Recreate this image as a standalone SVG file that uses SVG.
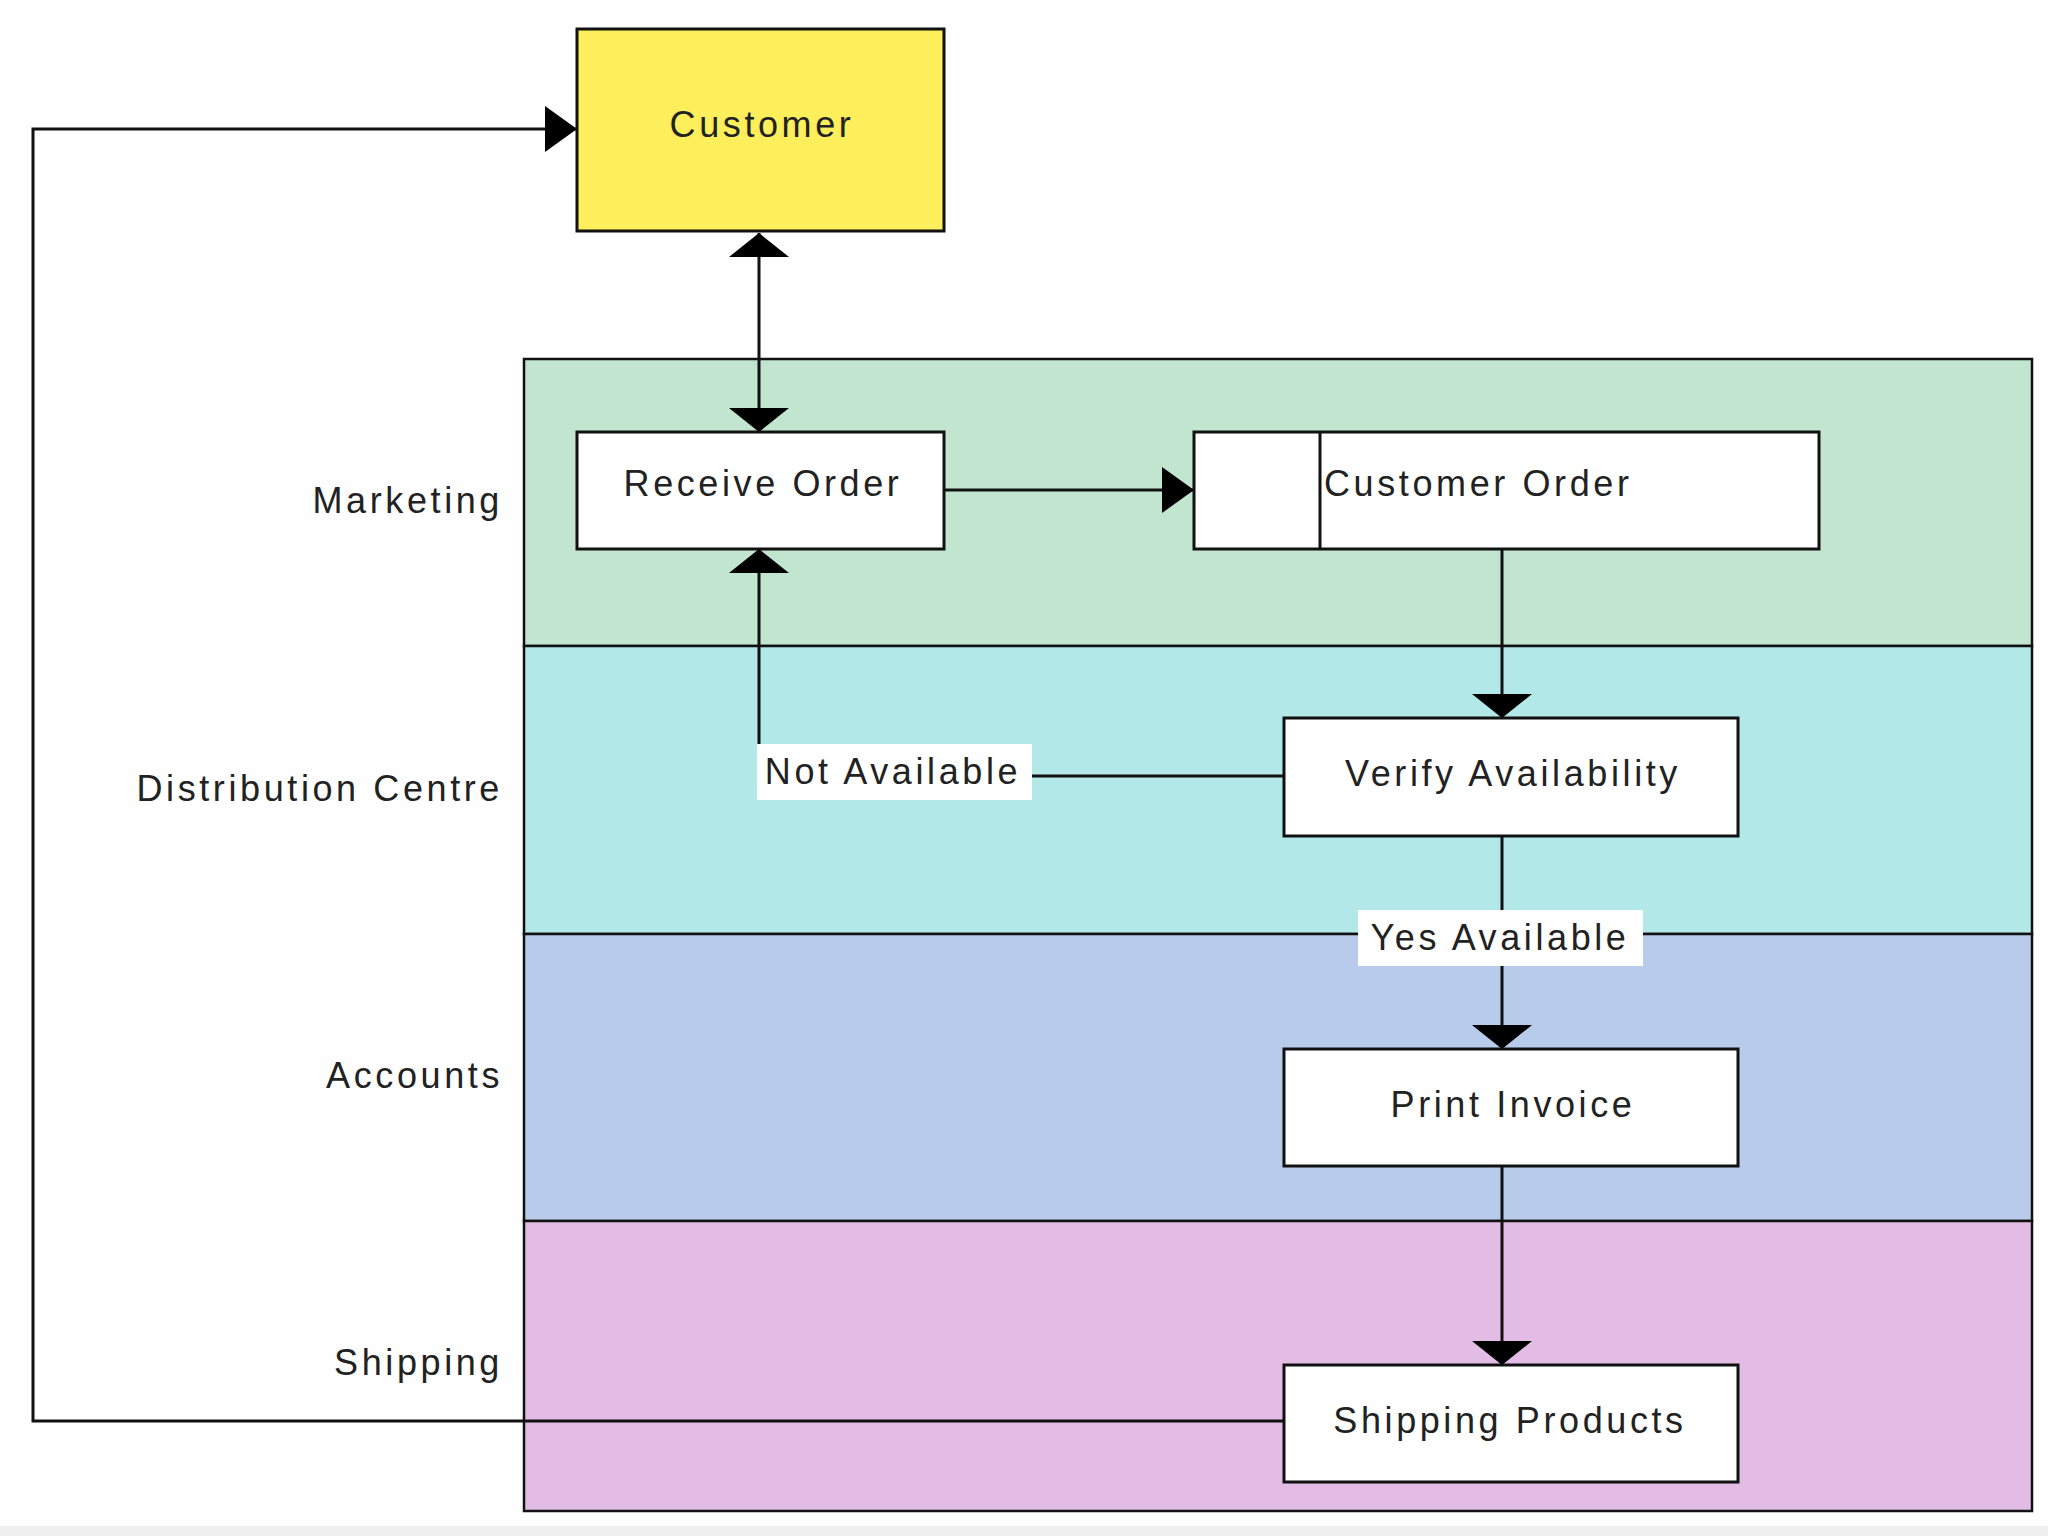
<svg xmlns="http://www.w3.org/2000/svg" width="2048" height="1536" viewBox="0 0 2048 1536">
<style>
.box{fill:#ffffff;stroke:#111;stroke-width:3}
.lane{stroke:#111;stroke-width:2.5}
.t{font-family:"Liberation Sans",Arial,sans-serif;font-size:36px;fill:#222;letter-spacing:3.6px}
.c{text-anchor:middle}
.r{text-anchor:end}
.conn{fill:none;stroke:#111;stroke-width:3}
.lbl{fill:#ffffff}
</style>
<defs>
<marker id="ah" markerUnits="userSpaceOnUse" markerWidth="32" markerHeight="46" refX="32" refY="23" orient="auto"><path d="M0,0 L32,23 L0,46 Z" fill="#000"/></marker>
<marker id="av" markerUnits="userSpaceOnUse" markerWidth="24" markerHeight="60" refX="24" refY="30" orient="auto"><path d="M0,0 L24,30 L0,60 Z" fill="#000"/></marker>
<marker id="avs" markerUnits="userSpaceOnUse" markerWidth="24" markerHeight="60" refX="24" refY="30" orient="auto-start-reverse"><path d="M0,0 L24,30 L0,60 Z" fill="#000"/></marker>
</defs>
<rect width="2048" height="1536" fill="#fefefe"/>
<rect x="0" y="1526" width="2048" height="10" fill="#efefef"/>
<g id="pool">
<rect class="lane" x="524" y="359" width="1508" height="287" fill="#c2e5cf"/>
<rect class="lane" x="524" y="646" width="1508" height="288" fill="#b3e8e8"/>
<rect class="lane" x="524" y="934" width="1508" height="287" fill="#b8cbea"/>
<rect class="lane" x="524" y="1221" width="1508" height="290" fill="#e2bce4"/>
</g>
<g id="lane-labels">
<text class="t r" x="503" y="513">Marketing</text>
<text class="t r" x="503" y="801">Distribution Centre</text>
<text class="t r" x="503" y="1088">Accounts</text>
<text class="t r" x="503" y="1375">Shipping</text>
</g>
<g id="connectors">
<path class="conn" d="M759,233 L759,432" marker-start="url(#avs)" marker-end="url(#av)"/>
<path class="conn" d="M944,490 L1194,490" marker-end="url(#ah)"/>
<path class="conn" d="M1502,549 L1502,718" marker-end="url(#av)"/>
<path class="conn" d="M1284,776 L759,776 L759,549" marker-end="url(#av)"/>
<path class="conn" d="M1502,836 L1502,1049" marker-end="url(#av)"/>
<path class="conn" d="M1502,1166 L1502,1365" marker-end="url(#av)"/>
<path class="conn" d="M1284,1421 L33,1421 L33,129 L577,129" marker-end="url(#ah)"/>
<rect class="lbl" x="757" y="744" width="275" height="56"/>
<text class="t c" x="893" y="784">Not Available</text>
<rect class="lbl" x="1358" y="910" width="285" height="56"/>
<text class="t c" x="1500" y="950">Yes Available</text>
</g>
<g id="customer">
<rect class="box" x="577" y="29" width="367" height="202" fill="#fdee5c" style="fill:#fdee5c"/>
<text class="t c" x="762" y="137">Customer</text>
</g>
<g id="receive-order">
<rect class="box" x="577" y="432" width="367" height="117"/>
<text class="t c" x="763" y="496">Receive Order</text>
</g>
<g id="customer-order">
<rect class="box" x="1194" y="432" width="625" height="117"/>
<line x1="1320" y1="432" x2="1320" y2="549" stroke="#111" stroke-width="3"/>
<text class="t" x="1324" y="496">Customer Order</text>
</g>
<g id="verify-availability">
<rect class="box" x="1284" y="718" width="454" height="118"/>
<text class="t c" x="1513" y="786">Verify Availability</text>
</g>
<g id="print-invoice">
<rect class="box" x="1284" y="1049" width="454" height="117"/>
<text class="t c" x="1513" y="1117">Print Invoice</text>
</g>
<g id="shipping-products">
<rect class="box" x="1284" y="1365" width="454" height="117"/>
<text class="t c" x="1510" y="1433">Shipping Products</text>
</g>
</svg>
